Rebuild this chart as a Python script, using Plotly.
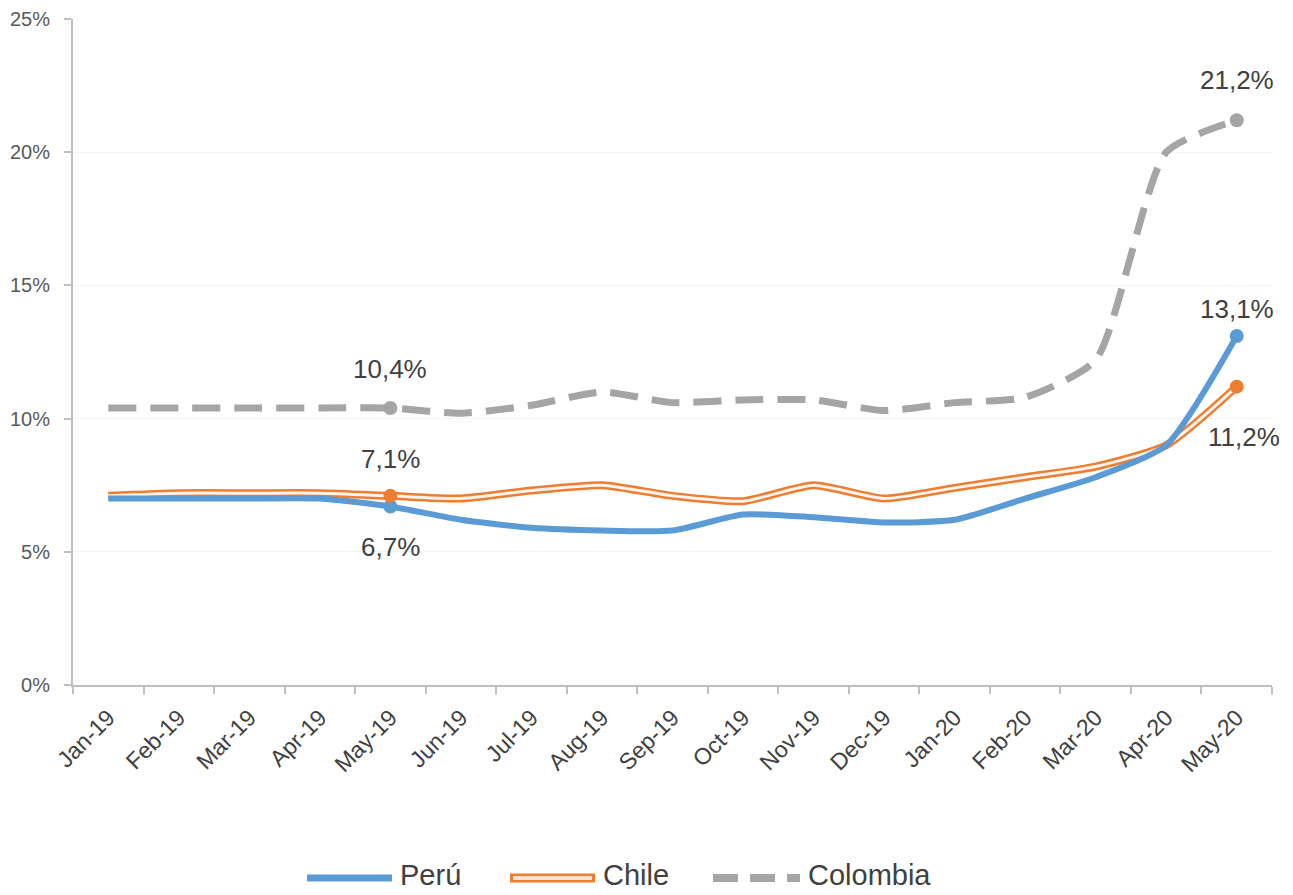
import plotly.graph_objects as go

months = ["Jan-19", "Feb-19", "Mar-19", "Apr-19", "May-19", "Jun-19", "Jul-19", "Aug-19",
          "Sep-19", "Oct-19", "Nov-19", "Dec-19", "Jan-20", "Feb-20", "Mar-20", "Apr-20", "May-20"]
peru = [7.0, 7.0, 7.0, 7.0, 6.7, 6.2, 5.9, 5.8, 5.8, 6.4, 6.3, 6.1, 6.2, 7.0, 7.8, 9.0, 13.1]
chile = [7.1, 7.2, 7.2, 7.2, 7.1, 7.0, 7.3, 7.5, 7.1, 6.9, 7.5, 7.0, 7.4, 7.8, 8.2, 9.0, 11.2]
colombia = [10.4, 10.4, 10.4, 10.4, 10.4, 10.2, 10.5, 11.0, 10.6, 10.7, 10.7, 10.3, 10.6, 10.8, 12.2, 20.0, 21.2]
y_ticks = [0, 5, 10, 15, 20, 25]
y_tick_labels = ["0%", "5%", "10%", "15%", "20%", "25%"]
marked = ["May-19", "May-20"]
series_names = ["Perú", "Chile", "Colombia"]

BLUE = "#5B9BD5"
ORANGE = "#ED7D31"
GRAY = "#A5A5A5"
FONT = "Liberation Sans"
SMOOTH = 0.6

# page body has an 8px margin: plot-area edges in figure pixels
OFF = 8
W, H = 1293, 895
L, R, T, B = 73 - OFF, 1272 - OFF, 19 - OFF, 685 - OFF

fig = go.Figure()
fig.add_trace(go.Scatter(
    x=months, y=colombia, name="Colombia", mode="lines", showlegend=False,
    line=dict(color=GRAY, width=7, dash="28px,14px", shape="spline", smoothing=SMOOTH)))
fig.add_trace(go.Scatter(
    x=months, y=chile, name="Chile", mode="lines", showlegend=False,
    line=dict(color=ORANGE, width=8, shape="spline", smoothing=SMOOTH)))
fig.add_trace(go.Scatter(
    x=months, y=chile, name="Chile", mode="lines", showlegend=False, hoverinfo="skip",
    line=dict(color="#FFF3EC", width=3, shape="spline", smoothing=SMOOTH)))
fig.add_trace(go.Scatter(
    x=months, y=peru, name="Perú", mode="lines", showlegend=False,
    line=dict(color=BLUE, width=6, shape="spline", smoothing=SMOOTH)))

for vals, col in [(colombia, GRAY), (peru, BLUE), (chile, ORANGE)]:
    fig.add_trace(go.Scatter(
        x=marked, y=[vals[months.index(m)] for m in marked], mode="markers",
        showlegend=False, hoverinfo="skip", marker=dict(size=14, color=col)))

def fmt(v):
    return f"{v:.1f}%".replace(".", ",")

ann_font = dict(family=FONT, size=26, color="#404040")
i5 = months.index("May-19")
i20 = months.index("May-20")
anns = [
    (months[i5], colombia[i5], fmt(colombia[i5]), 0, -39),
    (months[i5], chile[i5], fmt(chile[i5]), 0, -37),
    (months[i5], peru[i5], fmt(peru[i5]), 0, 40),
    (months[i20], colombia[i20], fmt(colombia[i20]), 0, -40),
    (months[i20], peru[i20], fmt(peru[i20]), 0, -27),
    (months[i20], chile[i20], fmt(chile[i20]), 7, 50),
]
for x, y, t, ax, ay in anns:
    fig.add_annotation(x=x, y=y, text=t, showarrow=False, xshift=ax, yshift=-ay, font=ann_font)

# manual legend; positions given in screen pixels
def px(x):
    return (x - OFF - L) / (R - L)
def py(y):
    return (B - (y - OFF)) / (B - T)

leg_y = 878
legend_items = [
    (series_names[0], 307, 392, 398),
    (series_names[1], 510, 595, 601),
    (series_names[2], 713, 800, 806),
]
for name, x0, x1, tx in legend_items:
    if name == "Perú":
        fig.add_shape(type="line", xref="paper", yref="paper", x0=px(x0), x1=px(x1),
                      y0=py(leg_y), y1=py(leg_y), line=dict(color=BLUE, width=7))
    elif name == "Chile":
        fig.add_shape(type="line", xref="paper", yref="paper", x0=px(x0), x1=px(x1),
                      y0=py(leg_y), y1=py(leg_y), line=dict(color=ORANGE, width=9))
        fig.add_shape(type="line", xref="paper", yref="paper", x0=px(x0 + 3), x1=px(x1 - 3),
                      y0=py(leg_y), y1=py(leg_y), line=dict(color="#FBE3D4", width=4))
    else:
        fig.add_shape(type="line", xref="paper", yref="paper", x0=px(x0), x1=px(x1),
                      y0=py(leg_y), y1=py(leg_y), line=dict(color=GRAY, width=8, dash="25px,12px"))
    fig.add_annotation(xref="paper", yref="paper", x=px(tx), y=py(leg_y - 3), text=name,
                       showarrow=False, xanchor="left", yanchor="middle",
                       font=dict(family=FONT, size=29, color="#404040"))

fig.update_layout(
    width=W, height=H,
    margin=dict(l=L, r=W - R, t=T, b=H - B),
    paper_bgcolor="white", plot_bgcolor="white",
    font=dict(family=FONT, color="#595959"),
    showlegend=False,
)
fig.update_xaxes(
    type="category", categoryorder="array", categoryarray=months,
    range=[-0.5, len(months) - 0.5], tickangle=-45, tickson="boundaries",
    ticks="outside", ticklen=7, tickcolor="#BFBFBF", tickwidth=2,
    showline=True, linecolor="#BFBFBF", linewidth=2, showgrid=False, automargin=False,
    ticklabelstandoff=8, ticklabeloverflow="allow",
    tickfont=dict(family=FONT, size=23, color="#404040"))
fig.update_yaxes(
    range=[0, 25], tickvals=y_ticks, ticktext=y_tick_labels,
    ticks="outside", ticklen=7, tickcolor="#BFBFBF", tickwidth=2,
    showline=True, linecolor="#BFBFBF", linewidth=2, automargin=False,
    ticklabelstandoff=10, ticklabeloverflow="allow",
    showgrid=True, gridcolor="#F4F4F4", gridwidth=1, zeroline=False,
    tickfont=dict(family=FONT, size=20, color="#595959"))

fig.write_html("out.html")
